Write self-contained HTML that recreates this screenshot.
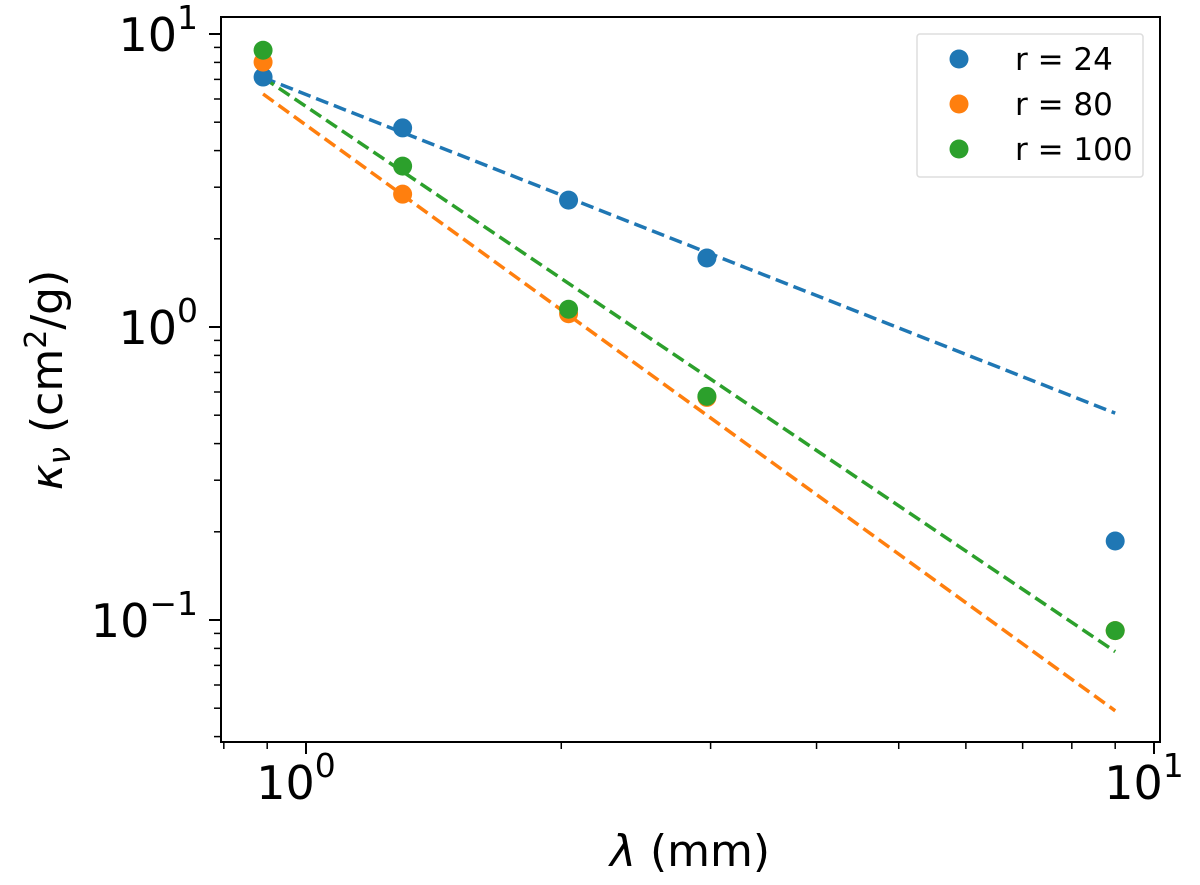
<!DOCTYPE html>
<html><head><meta charset="utf-8"><style>
body{margin:0;background:#fff}
svg text{font-family:"DejaVu Sans","Liberation Sans",sans-serif;fill:#000}
</style></head><body>
<svg id="c" width="1200" height="880" viewBox="0 0 1200 880"></svg>
<script>
const xs=[0.89,1.30,2.04,2.97,9.0];
const blueVals=[7.13,4.78,2.71,1.72,0.186];
const orangeVals=[8.02,2.84,1.11,0.575,0.092];
const greenVals=[8.8,3.54,1.15,0.58,0.092];
const fitX=[0.89,9.0];
const blueFit=[7.1,0.508];
const orangeFit=[6.24,0.049];
const greenFit=[7.1,0.078];
const seriesNames=["r = 24","r = 80","r = 100"];
const colors=["#1f77b4","#ff7f0e","#2ca02c"];
const NS="http://www.w3.org/2000/svg";
const svg=document.getElementById('c');
const L=221,R=1160,T=17,B=742;
const X=v=>306+848*Math.log10(v);
const Y=v=>327-293*Math.log10(v);
function el(t,a,p){const e=document.createElementNS(NS,t);for(const k in a)e.setAttribute(k,a[k]);(p||svg).appendChild(e);return e;}
[blueFit,orangeFit,greenFit].forEach((f,i)=>{
 const l=el('line',{x1:X(fitX[0]),y1:Y(f[0]),x2:X(fitX[1]),y2:Y(f[1]),stroke:colors[i],'stroke-width':3.5,'stroke-dasharray':'13 6'});
 
 
});
[blueVals,orangeVals,greenVals].forEach((s,i)=>{
 s.forEach((v,j)=>{
  const c=el('circle',{cx:X(xs[j]),cy:Y(v),r:9.5,fill:colors[i]});
  
  
 });
});
const fr=el('rect',{x:L,y:T,width:R-L,height:B-T,fill:'none',stroke:'#000','stroke-width':2});


for(let e=-2;e<=1;e++){for(let m=1;m<10;m++){const v=m*Math.pow(10,e);const y=Y(v);if(y<T-1||y>B+1)continue;
 const t=el('line',{x1:L,x2:L-(m==1?12:7),y1:y,y2:y,stroke:'#000','stroke-width':m==1?2:1.5});
 
 }}
for(let e=-1;e<=1;e++){const y=Y(Math.pow(10,e));const g=el('text',{x:198,y:y+17,'font-size':46,'text-anchor':'end'});
 
 
 g.innerHTML='10<tspan dy="-22" font-size="33">'+(e<0?'\u2212':'')+Math.abs(e)+'</tspan>';}
for(let e=-1;e<=1;e++){for(let m=1;m<10;m++){const v=m*Math.pow(10,e);const x=X(v);if(x<L-1||x>R+1)continue;
 const t=el('line',{x1:x,x2:x,y1:B,y2:B+(m==1?12:7),stroke:'#000','stroke-width':m==1?2:1.5});
 
 }}
for(let e=0;e<=1;e++){const x=X(Math.pow(10,e));const g=el('text',{x:x-10,y:799,'font-size':46,'text-anchor':'middle'});
 
 
 g.innerHTML='10<tspan dy="-22" font-size="33">'+e+'</tspan>';}
const xl=el('text',{x:690,y:866,'font-size':44,'text-anchor':'middle'});


xl.innerHTML='<tspan font-style="italic">λ</tspan> (mm)';
const yl=el('text',{x:0,y:0,'font-size':44,'text-anchor':'middle',transform:'translate(62,380) rotate(-90)'});


yl.innerHTML='<tspan font-style="italic">κ</tspan><tspan font-style="italic" font-size="31" dy="8">ν</tspan><tspan dy="-8"> (cm</tspan><tspan font-size="30" dy="-16">2</tspan><tspan dy="16">/g)</tspan>';
const lg=el('g',{});


const lb=el('rect',{x:917,y:34,width:226,height:143,rx:3,fill:'#fff',stroke:'#ddd','stroke-width':1.5},lg);


seriesNames.forEach((n,i)=>{
 const y=59+i*45;
 const c=el('circle',{cx:959,cy:y,r:9.5,fill:colors[i]},lg);
 
 
 const t=el('text',{x:1015,y:y+11,'font-size':31},lg);
 
 
 t.textContent=n;
});
</script>
</body></html>
